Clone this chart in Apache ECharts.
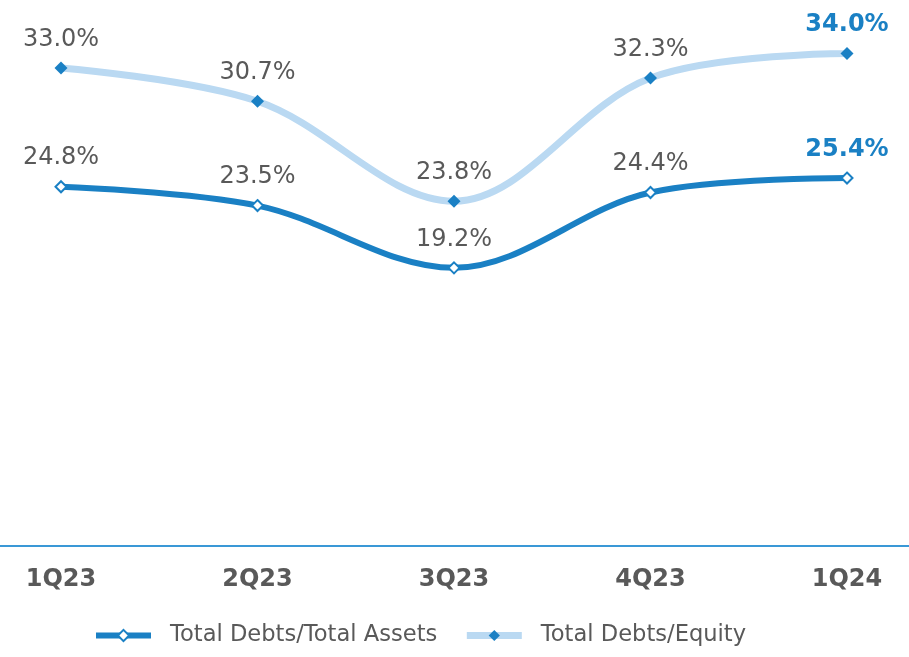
<!DOCTYPE html>
<html>
<head>
<meta charset="utf-8">
<script src="https://cdn.jsdelivr.net/npm/echarts@6/dist/echarts.min.js"></script>
<style>
  html, body { margin: 0; padding: 0; background: #fff; }
  #chart { width: 909px; height: 657px; }
</style>
</head>
<body>
<div id="chart"></div>
<script>
const quarters = ['1Q23', '2Q23', '3Q23', '4Q23', '1Q24'];
const debtsAssets = [24.8, 23.5, 19.2, 24.4, 25.4];
const debtsEquity = [33.0, 30.7, 23.8, 32.3, 34.0];

const darkBlue = '#1a80c4';
const lightBlue = '#bad9f2';
const grey = '#595959';
const font = 'DejaVu Sans';

// last point gets the bold blue label
const withHighlight = (values) => values.map((v, i) => {
    if (i < values.length - 1) return v;
    return {
        value: v,
        label: { color: darkBlue, fontWeight: 'bold' }
    };
});

const labelStyle = {
    show: true,
    position: 'top',
    distance: 10,
    fontFamily: font,
    fontSize: 24,
    color: grey,
    formatter: (p) => p.value.toFixed(1) + '%'
};

echarts.init(document.getElementById('chart')).setOption({
    animation: false,
    grid: [
        { left: 61, right: 62, top: 10, bottom: 111 },
        // full-width grid only used for the base line
        { left: 0, right: 0, top: 10, bottom: 111 }
    ],
    legend: {
        left: 88,
        top: 619,
        itemWidth: 55,
        itemHeight: 14,
        itemGap: 26,
        lineStyle: { width: 'inherit' },
        textStyle: {
            fontFamily: font,
            fontSize: 22.6,
            color: grey,
            padding: [0, 0, 0, 14]
        },
        data: ['Total Debts/Total Assets', 'Total Debts/Equity']
    },
    xAxis: [
        {
            type: 'category',
            gridIndex: 0,
            data: quarters,
            boundaryGap: false,
            axisLine: { show: false },
            axisTick: { show: false },
            axisLabel: {
                margin: 22,
                fontFamily: font,
                fontSize: 24,
                fontWeight: 'bold',
                color: grey
            }
        },
        {
            type: 'value',
            gridIndex: 1,
            axisLine: { show: true, lineStyle: { color: '#3a98d6', width: 2 } },
            axisTick: { show: false },
            axisLabel: { show: false },
            splitLine: { show: false }
        }
    ],
    yAxis: [
        { type: 'value', gridIndex: 0, min: 0, max: 37, show: false, splitLine: { show: false } },
        { type: 'value', gridIndex: 1, show: false, splitLine: { show: false } }
    ],
    series: [
        {
            name: 'Total Debts/Total Assets',
            type: 'line',
            smooth: 0.35,
            data: withHighlight(debtsAssets),
            symbol: 'diamond',
            symbolSize: 11,
            lineStyle: { color: darkBlue, width: 6 },
            itemStyle: { color: '#fff', borderColor: darkBlue, borderWidth: 2 },
            label: labelStyle
        },
        {
            name: 'Total Debts/Equity',
            type: 'line',
            smooth: 0.35,
            data: withHighlight(debtsEquity),
            symbol: 'diamond',
            symbolSize: 13,
            lineStyle: { color: lightBlue, width: 7 },
            itemStyle: { color: darkBlue },
            label: labelStyle
        }
    ]
});
</script>
</body>
</html>
